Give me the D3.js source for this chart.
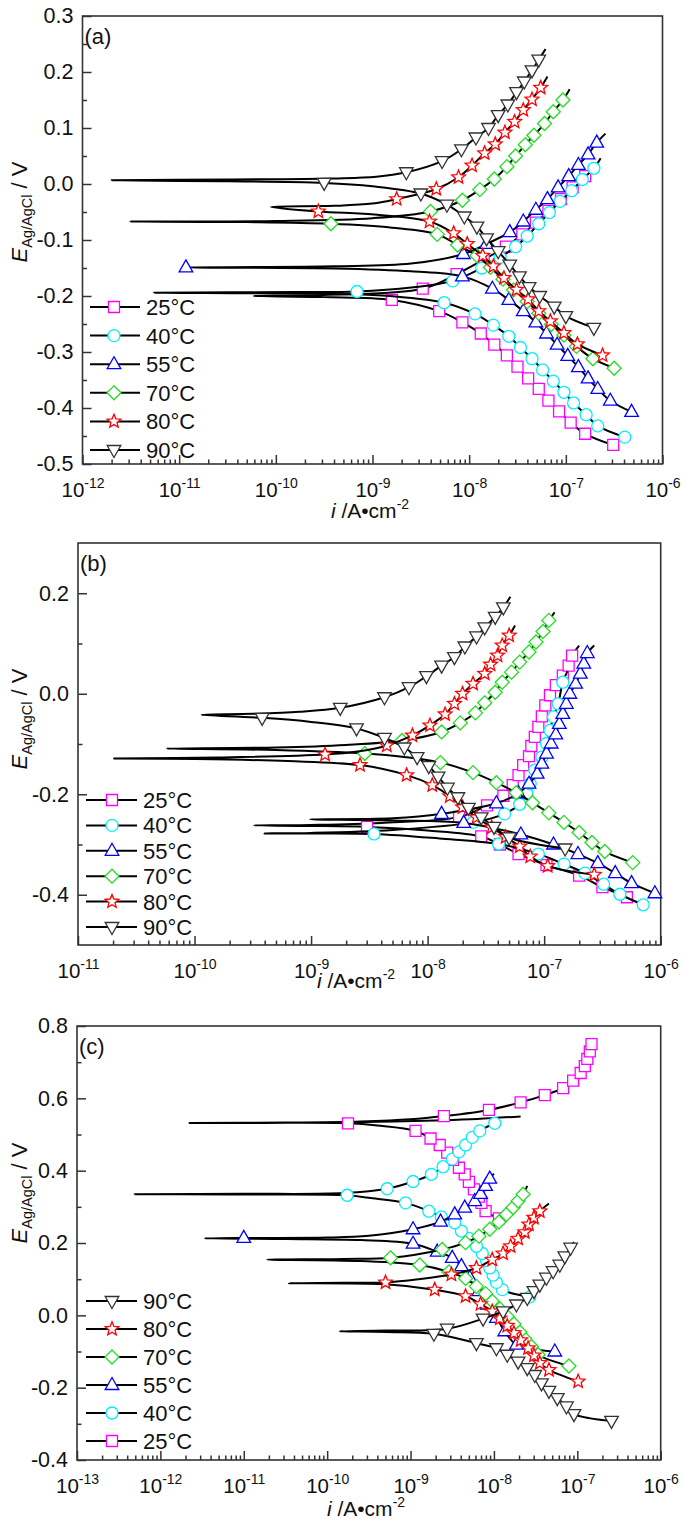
<!DOCTYPE html>
<html>
<head>
<meta charset="utf-8">
<script src="https://cdn.jsdelivr.net/npm/d3@7"></script>
<style>
body{margin:0;background:#fff}
svg{display:block;font-family:"Liberation Sans",Arial,sans-serif}
</style>
</head>
<body>
<svg width="685" height="1525"></svg>
<script>
// each point: [log10 i (A/cm2), E (V vs Ag/AgCl), marker shown 1/0]
// order: cathodic end -> corrosion potential spike -> anodic end

// panel (a)
var a25 = [[-6.51,-0.466,1],[-6.80,-0.446,1],[-6.95,-0.426,1],[-7.07,-0.406,1],[-7.18,-0.387,1],[-7.28,-0.366,1],[-7.39,-0.347,1],[-7.50,-0.326,1],[-7.61,-0.306,1],[-7.74,-0.287,1],[-7.88,-0.267,1],[-8.07,-0.247,1],[-8.31,-0.227,1],[-8.80,-0.207,1],[-9.50,-0.202,0],[-10.23,-0.200,0],[-9.50,-0.198,0],[-8.48,-0.187,1],[-8.13,-0.161,1],[-7.85,-0.135,1],[-7.62,-0.112,1],[-7.45,-0.090,1],[-7.31,-0.069,1],[-7.18,-0.048,1],[-7.05,-0.027,1],[-6.93,-0.006,1],[-6.80,0.014,1],[-6.72,0.030,0]];
var a40 = [[-6.39,-0.452,1],[-6.67,-0.432,1],[-6.79,-0.412,1],[-6.92,-0.391,1],[-7.02,-0.372,1],[-7.13,-0.352,1],[-7.24,-0.332,1],[-7.35,-0.312,1],[-7.47,-0.292,1],[-7.59,-0.272,1],[-7.75,-0.252,1],[-7.94,-0.232,1],[-8.26,-0.212,1],[-8.90,-0.199,0],[-9.60,-0.196,0],[-11.26,-0.194,0],[-9.80,-0.193,0],[-9.16,-0.192,1],[-8.60,-0.185,0],[-8.17,-0.173,1],[-7.87,-0.150,1],[-7.68,-0.131,1],[-7.52,-0.112,1],[-7.40,-0.093,1],[-7.28,-0.071,1],[-7.17,-0.051,1],[-7.06,-0.031,1],[-6.94,-0.012,1],[-6.83,0.008,1],[-6.71,0.028,1],[-6.64,0.046,0]];
var a55 = [[-6.32,-0.407,1],[-6.54,-0.387,1],[-6.67,-0.366,1],[-6.77,-0.347,1],[-6.87,-0.327,1],[-6.98,-0.307,1],[-7.09,-0.287,1],[-7.20,-0.267,1],[-7.31,-0.247,1],[-7.44,-0.227,1],[-7.59,-0.207,1],[-7.76,-0.187,1],[-8.07,-0.165,1],[-8.60,-0.156,0],[-9.40,-0.151,0],[-10.93,-0.149,1],[-9.40,-0.147,0],[-8.60,-0.142,0],[-8.06,-0.125,1],[-7.82,-0.107,1],[-7.58,-0.086,1],[-7.44,-0.067,1],[-7.31,-0.046,1],[-7.19,-0.027,1],[-7.08,-0.006,1],[-6.97,0.014,1],[-6.87,0.034,1],[-6.77,0.053,1],[-6.68,0.074,1],[-6.59,0.090,0]];
var a70 = [[-6.50,-0.329,1],[-6.72,-0.312,1],[-6.89,-0.290,1],[-7.02,-0.270,1],[-7.15,-0.251,1],[-7.28,-0.231,1],[-7.40,-0.210,1],[-7.54,-0.189,1],[-7.65,-0.170,1],[-7.78,-0.149,1],[-7.92,-0.128,1],[-8.12,-0.109,1],[-8.33,-0.090,1],[-8.80,-0.078,0],[-9.43,-0.071,1],[-10.30,-0.068,0],[-11.51,-0.067,0],[-10.00,-0.066,0],[-9.00,-0.061,0],[-8.40,-0.049,1],[-8.07,-0.029,1],[-7.89,-0.010,1],[-7.74,0.009,1],[-7.61,0.031,1],[-7.52,0.050,1],[-7.42,0.070,1],[-7.33,0.087,1],[-7.22,0.108,1],[-7.13,0.129,1],[-7.03,0.150,1],[-6.96,0.169,0]];
var a80 = [[-6.62,-0.306,1],[-6.88,-0.286,1],[-7.02,-0.266,1],[-7.16,-0.245,1],[-7.28,-0.227,1],[-7.39,-0.206,1],[-7.51,-0.189,1],[-7.64,-0.168,1],[-7.75,-0.147,1],[-7.86,-0.128,1],[-8.02,-0.107,1],[-8.16,-0.088,1],[-8.41,-0.067,1],[-8.95,-0.055,0],[-9.56,-0.049,1],[-10.05,-0.041,0],[-9.40,-0.039,0],[-9.00,-0.035,0],[-8.75,-0.027,1],[-8.34,-0.009,1],[-8.11,0.012,1],[-7.97,0.033,1],[-7.84,0.055,1],[-7.73,0.071,1],[-7.63,0.092,1],[-7.53,0.111,1],[-7.44,0.132,1],[-7.35,0.151,1],[-7.26,0.172,1],[-7.19,0.192,0]];
var a90 = [[-6.71,-0.257,1],[-7.00,-0.236,1],[-7.12,-0.219,1],[-7.27,-0.200,1],[-7.38,-0.184,1],[-7.48,-0.165,1],[-7.58,-0.144,1],[-7.70,-0.120,1],[-7.82,-0.097,1],[-7.92,-0.076,1],[-8.05,-0.058,1],[-8.23,-0.037,1],[-8.50,-0.017,1],[-9.00,-0.004,0],[-9.50,0.002,1],[-10.50,0.005,0],[-11.70,0.0065,0],[-10.50,0.008,0],[-9.40,0.010,0],[-8.96,0.013,0],[-8.65,0.021,1],[-8.28,0.041,1],[-8.08,0.062,1],[-7.93,0.083,1],[-7.80,0.100,1],[-7.70,0.123,1],[-7.60,0.142,1],[-7.51,0.164,1],[-7.43,0.183,1],[-7.35,0.203,1],[-7.28,0.222,1],[-7.21,0.241,0]];

// panel (b)
var b25 = [[-6.29,-0.405,1],[-6.50,-0.385,1],[-6.70,-0.362,1],[-6.98,-0.341,1],[-7.22,-0.319,1],[-7.38,-0.300,1],[-7.54,-0.284,1],[-8.00,-0.272,0],[-8.52,-0.265,1],[-9.00,-0.263,0],[-9.49,-0.262,0],[-9.00,-0.261,0],[-8.40,-0.257,0],[-7.73,-0.245,1],[-7.49,-0.222,1],[-7.35,-0.203,1],[-7.27,-0.182,1],[-7.22,-0.162,1],[-7.18,-0.142,1],[-7.13,-0.124,1],[-7.11,-0.104,1],[-7.08,-0.086,1],[-7.05,-0.066,1],[-7.02,-0.045,1],[-6.99,-0.023,1],[-6.95,-0.003,1],[-6.90,0.017,1],[-6.84,0.036,1],[-6.79,0.056,1],[-6.76,0.076,1],[-6.70,0.096,0]];
var b40 = [[-6.15,-0.420,1],[-6.35,-0.399,1],[-6.49,-0.379,1],[-6.65,-0.357,1],[-6.83,-0.339,1],[-7.05,-0.319,1],[-7.39,-0.299,1],[-7.90,-0.288,0],[-8.46,-0.279,1],[-9.00,-0.278,0],[-9.40,-0.278,0],[-9.00,-0.277,0],[-8.30,-0.271,0],[-7.61,-0.256,1],[-7.34,-0.239,1],[-7.21,-0.220,1],[-7.15,-0.198,1],[-7.12,-0.179,1],[-7.08,-0.152,1],[-7.02,-0.126,1],[-6.98,-0.099,1],[-6.95,-0.073,1],[-6.92,-0.046,1],[-6.88,-0.020,1],[-6.84,0.023,1],[-6.80,0.045,0]];
var b55 = [[-6.05,-0.397,1],[-6.25,-0.377,1],[-6.39,-0.357,1],[-6.54,-0.337,1],[-6.71,-0.319,1],[-6.92,-0.300,1],[-7.20,-0.280,1],[-7.69,-0.257,1],[-8.30,-0.252,0],[-9.01,-0.250,0],[-8.30,-0.248,0],[-7.88,-0.239,1],[-7.41,-0.218,1],[-7.22,-0.198,1],[-7.13,-0.179,1],[-7.06,-0.159,1],[-7.02,-0.139,1],[-6.98,-0.119,1],[-6.94,-0.099,1],[-6.90,-0.081,1],[-6.87,-0.060,1],[-6.84,-0.040,1],[-6.81,-0.020,1],[-6.78,0.000,1],[-6.73,0.020,1],[-6.69,0.040,1],[-6.66,0.060,1],[-6.63,0.081,1],[-6.57,0.096,0]];
var b70 = [[-6.24,-0.336,1],[-6.48,-0.314,1],[-6.59,-0.296,1],[-6.70,-0.276,1],[-6.83,-0.256,1],[-6.96,-0.237,1],[-7.10,-0.217,1],[-7.24,-0.197,1],[-7.41,-0.177,1],[-7.61,-0.157,1],[-7.89,-0.137,1],[-8.20,-0.126,0],[-8.54,-0.119,1],[-9.30,-0.112,0],[-10.24,-0.109,0],[-9.30,-0.107,0],[-8.70,-0.102,0],[-8.22,-0.093,1],[-7.88,-0.076,1],[-7.72,-0.058,1],[-7.59,-0.038,1],[-7.51,-0.018,1],[-7.42,0.003,1],[-7.36,0.023,1],[-7.28,0.043,1],[-7.21,0.063,1],[-7.13,0.083,1],[-7.07,0.103,1],[-7.01,0.124,1],[-6.96,0.146,1],[-6.91,0.162,0]];
var b80 = [[-6.57,-0.360,1],[-6.97,-0.343,1],[-7.12,-0.324,1],[-7.21,-0.304,1],[-7.33,-0.285,1],[-7.45,-0.266,1],[-7.58,-0.246,1],[-7.70,-0.226,1],[-7.81,-0.204,1],[-7.96,-0.182,1],[-8.18,-0.162,1],[-8.58,-0.142,1],[-9.20,-0.134,0],[-10.00,-0.130,0],[-10.69,-0.129,0],[-9.80,-0.127,0],[-8.88,-0.121,1],[-8.60,-0.115,0],[-8.35,-0.103,1],[-8.13,-0.083,1],[-7.98,-0.063,1],[-7.85,-0.041,1],[-7.77,-0.020,1],[-7.70,0.000,1],[-7.61,0.020,1],[-7.51,0.040,1],[-7.46,0.058,1],[-7.40,0.076,1],[-7.36,0.096,1],[-7.30,0.116,1],[-7.25,0.136,0]];
var b90 = [[-6.82,-0.308,1],[-7.30,-0.286,1],[-7.43,-0.265,1],[-7.54,-0.246,1],[-7.65,-0.227,1],[-7.74,-0.206,1],[-7.83,-0.187,1],[-7.91,-0.165,1],[-7.99,-0.144,1],[-8.09,-0.126,1],[-8.20,-0.107,1],[-8.37,-0.088,1],[-8.61,-0.069,1],[-9.00,-0.056,0],[-9.42,-0.048,1],[-9.94,-0.042,0],[-9.50,-0.040,0],[-9.10,-0.036,0],[-8.75,-0.028,1],[-8.37,-0.007,1],[-8.16,0.013,1],[-8.01,0.035,1],[-7.88,0.056,1],[-7.77,0.073,1],[-7.68,0.094,1],[-7.58,0.114,1],[-7.51,0.132,1],[-7.42,0.153,1],[-7.35,0.172,1],[-7.29,0.193,0]];

// panel (c)
var c25 = [[-7.94,0.268,1],[-8.10,0.288,1],[-8.15,0.311,1],[-8.18,0.328,1],[-8.24,0.348,1],[-8.30,0.369,1],[-8.35,0.390,1],[-8.42,0.408,1],[-8.49,0.430,1],[-8.56,0.450,1],[-8.65,0.471,1],[-8.76,0.489,1],[-8.94,0.510,1],[-9.40,0.525,0],[-9.75,0.531,1],[-10.80,0.532,0],[-11.65,0.532,0],[-10.50,0.533,0],[-9.60,0.536,0],[-9.00,0.542,0],[-8.60,0.551,1],[-8.06,0.568,1],[-7.68,0.589,1],[-7.39,0.609,1],[-7.17,0.628,1],[-7.05,0.649,1],[-6.96,0.670,1],[-6.91,0.689,1],[-6.88,0.709,1],[-6.85,0.730,1],[-6.83,0.750,1],[-6.83,0.767,0]];
var c25tail = [[-9.70,0.534,0],[-9.20,0.536,0],[-8.70,0.539,0],[-8.20,0.543,0],[-7.68,0.550,0]];
var c40 = [[-7.57,0.051,1],[-7.90,0.071,1],[-7.97,0.091,1],[-8.01,0.111,1],[-8.05,0.131,1],[-8.09,0.152,1],[-8.14,0.171,1],[-8.21,0.191,1],[-8.30,0.213,1],[-8.39,0.233,1],[-8.47,0.256,1],[-8.63,0.272,1],[-8.78,0.288,1],[-9.06,0.311,1],[-9.50,0.325,0],[-9.76,0.332,1],[-11.00,0.334,0],[-12.31,0.335,0],[-11.00,0.336,0],[-9.80,0.338,0],[-9.28,0.350,1],[-8.97,0.370,1],[-8.75,0.390,1],[-8.61,0.411,1],[-8.50,0.432,1],[-8.42,0.452,1],[-8.34,0.471,1],[-8.26,0.492,1],[-8.17,0.510,1],[-7.99,0.531,1]];
var c55 = [[-7.27,-0.100,1],[-7.73,-0.081,1],[-7.87,-0.044,1],[-7.97,-0.007,1],[-8.08,0.030,1],[-8.18,0.067,1],[-8.29,0.104,1],[-8.39,0.136,1],[-8.50,0.159,1],[-8.68,0.176,1],[-8.97,0.198,1],[-9.60,0.208,0],[-10.50,0.211,0],[-11.47,0.213,0],[-11.00,0.214,1],[-10.00,0.215,0],[-9.50,0.220,0],[-8.97,0.238,1],[-8.64,0.259,1],[-8.47,0.279,1],[-8.35,0.298,1],[-8.23,0.316,1],[-8.16,0.336,1],[-8.10,0.358,1],[-8.05,0.378,1],[-8.00,0.392,0]];
var c70 = [[-7.10,-0.140,1],[-7.47,-0.109,1],[-7.55,-0.086,1],[-7.63,-0.065,1],[-7.69,-0.046,1],[-7.76,-0.024,1],[-7.84,-0.003,1],[-7.93,0.018,1],[-8.02,0.039,1],[-8.10,0.060,1],[-8.21,0.080,1],[-8.34,0.102,1],[-8.54,0.120,1],[-8.89,0.139,1],[-9.60,0.150,0],[-10.72,0.154,0],[-9.80,0.156,0],[-9.24,0.159,1],[-8.62,0.182,1],[-8.34,0.201,1],[-8.18,0.219,1],[-8.05,0.238,1],[-7.94,0.258,1],[-7.85,0.279,1],[-7.77,0.298,1],[-7.71,0.316,1],[-7.65,0.335,1],[-7.60,0.358,0]];
var c80 = [[-6.99,-0.183,1],[-7.34,-0.151,1],[-7.45,-0.132,1],[-7.52,-0.111,1],[-7.59,-0.091,1],[-7.68,-0.069,1],[-7.76,-0.049,1],[-7.84,-0.029,1],[-7.93,-0.009,1],[-8.02,0.011,1],[-8.16,0.031,1],[-8.34,0.053,1],[-8.71,0.071,1],[-9.30,0.086,0],[-10.46,0.089,0],[-9.80,0.090,0],[-9.30,0.091,1],[-8.90,0.100,0],[-8.51,0.113,1],[-8.21,0.131,1],[-8.02,0.154,1],[-7.89,0.171,1],[-7.80,0.191,1],[-7.71,0.212,1],[-7.63,0.230,1],[-7.58,0.251,1],[-7.52,0.270,1],[-7.45,0.288,1],[-7.34,0.309,0]];
var c90 = [[-6.59,-0.292,1],[-7.04,-0.273,1],[-7.13,-0.252,1],[-7.24,-0.229,1],[-7.34,-0.209,1],[-7.43,-0.188,1],[-7.51,-0.165,1],[-7.60,-0.146,1],[-7.71,-0.128,1],[-7.84,-0.109,1],[-7.97,-0.091,1],[-8.21,-0.077,1],[-8.72,-0.051,1],[-9.30,-0.046,0],[-9.85,-0.044,0],[-9.30,-0.042,0],[-8.56,-0.037,1],[-8.13,-0.009,1],[-7.89,0.011,1],[-7.73,0.030,1],[-7.60,0.048,1],[-7.52,0.067,1],[-7.45,0.085,1],[-7.37,0.104,1],[-7.29,0.122,1],[-7.21,0.140,1],[-7.15,0.163,1],[-7.08,0.187,1],[-7.04,0.203,0]];

var temps = ["25°C", "40°C", "55°C", "70°C", "80°C", "90°C"];
var xExpA = [-12, -11, -10, -9, -8, -7, -6];
var xExpB = [-11, -10, -9, -8, -7, -6];
var xExpC = [-13, -12, -11, -10, -9, -8, -7, -6];
var yMajA = [0.3, 0.2, 0.1, 0.0, -0.1, -0.2, -0.3, -0.4, -0.5];
var yMinA = [0.25, 0.15, 0.05, -0.05, -0.15, -0.25, -0.35, -0.45];
var yMajB = [0.2, 0.0, -0.2, -0.4];
var yMinB = [0.1, -0.1, -0.3];
var yMajC = [0.8, 0.6, 0.4, 0.2, 0.0, -0.2, -0.4];
var yMinC = [0.7, 0.5, 0.3, 0.1, -0.1, -0.3];

var colors = ["#ff00ff", "#00eeff", "#0000ff", "#22dd22", "#ff0000", "#333333"];

function starPath(ro, ri) {
  var s = "";
  for (var k = 0; k < 10; k++) {
    var r = k % 2 ? ri : ro;
    var a = -Math.PI / 2 + k * Math.PI / 5;
    s += (k ? "L" : "M") + (r * Math.cos(a)).toFixed(2) + "," + (r * Math.sin(a)).toFixed(2);
  }
  return s + "Z";
}
var shapes = [
  "M-5.5,-5.5H5.5V5.5H-5.5Z",
  d3.symbol(d3.symbolCircle, Math.PI * 36)(),
  "M0,-7.5L6.8,4.5L-6.8,4.5Z",
  "M0,-7L7,0L0,7L-7,0Z",
  starPath(7.2, 3.2),
  "M0,7.5L6.8,-4.5L-6.8,-4.5Z"
];

var svg = d3.select("svg");

var panels = [
  {series: [a25, a40, a55, a70, a80, a90], extra: [], xExp: xExpA, yMaj: yMajA, yMin: yMinA,
   left: 82.5, right: 662.5, top: 16, bottom: 464, yDom: [-0.5, 0.3], label: "(a)",
   leg: {x1: 90, x2: 140, xm: 114, xt: 146, y0: 307, dy: 28.6, order: [0, 1, 2, 3, 4, 5]},
   yTitle: 212, xTitle: [370, 518]},
  {series: [b25, b40, b55, b70, b80, b90], extra: [], xExp: xExpB, yMaj: yMajB, yMin: yMinB,
   left: 78, right: 660.7, top: 543, bottom: 945, yDom: [-0.5, 0.3], label: "(b)",
   leg: {x1: 86, x2: 137, xm: 112, xt: 143, y0: 800, dy: 25.4, order: [0, 1, 2, 3, 4, 5]},
   yTitle: 719, xTitle: [356, 988]},
  {series: [c25, c40, c55, c70, c80, c90], extra: [c25tail], xExp: xExpC, yMaj: yMajC, yMin: yMinC,
   left: 77, right: 660.7, top: 1026, bottom: 1460, yDom: [-0.4, 0.8], label: "(c)",
   leg: {x1: 86, x2: 137, xm: 112, xt: 143, y0: 1301, dy: 28, order: [5, 4, 3, 2, 1, 0]},
   yTitle: 1193, xTitle: [366, 1516]}
];

function drawPanel(p) {
  var lo = p.xExp[0], hi = p.xExp[p.xExp.length - 1];
  var x = d3.scaleLog().domain([Math.pow(10, lo), Math.pow(10, hi)]).range([p.left, p.right]);
  var y = d3.scaleLinear().domain(p.yDom).range([p.bottom, p.top]);
  var g = svg.append("g");

  // minor x ticks
  var minors = [];
  p.xExp.slice(0, -1).forEach(function(e) {
    for (var k = 2; k < 10; k++) minors.push(k * Math.pow(10, e));
  });
  var xm = g.append("g").attr("transform", "translate(0," + p.bottom + ")")
    .call(d3.axisBottom(x).tickValues(minors).tickSizeInner(-4.5).tickSizeOuter(0).tickFormat(""));
  var xa = g.append("g").attr("transform", "translate(0," + p.bottom + ")")
    .call(d3.axisBottom(x).tickValues(p.xExp.map(function(e){ return Math.pow(10, e); }))
      .tickSizeInner(-9).tickSizeOuter(0).tickFormat(""));
  xa.selectAll(".tick text").attr("y", 33).attr("dy", null).attr("font-size", 20.5)
    .each(function(d, i) {
      var t = d3.select(this);
      t.append("tspan").text("10");
      t.append("tspan").attr("dy", -9).attr("font-size", 14).text(p.xExp[i]);
    });

  var ym = g.append("g").attr("transform", "translate(" + p.left + ",0)")
    .call(d3.axisLeft(y).tickValues(p.yMin).tickSizeInner(-4.5).tickSizeOuter(0).tickFormat(""));
  var ya = g.append("g").attr("transform", "translate(" + p.left + ",0)")
    .call(d3.axisLeft(y).tickValues(p.yMaj).tickSizeInner(-9).tickSizeOuter(0)
      .tickFormat(function(d){ return d.toFixed(1); }));
  ya.selectAll(".tick text").attr("x", -9).attr("font-size", 21.5);

  [xm, xa, ym, ya].forEach(function(a) {
    a.attr("font-family", null).attr("font-size", null);
    a.select(".domain").remove();
    a.selectAll("line").attr("stroke", "#333").attr("stroke-width", 1.5);
    a.selectAll("text").attr("fill", "#111");
  });

  g.append("rect").attr("x", p.left).attr("y", p.top)
    .attr("width", p.right - p.left).attr("height", p.bottom - p.top)
    .attr("fill", "none").attr("stroke", "#333").attr("stroke-width", 1.6);

  var line = d3.line()
    .x(function(d){ return x(Math.pow(10, d[0])); })
    .y(function(d){ return y(d[1]); })
    .curve(d3.curveCatmullRom.alpha(0.5));

  p.extra.forEach(function(s) {
    g.append("path").attr("d", line(s)).attr("fill", "none")
      .attr("stroke", "#000").attr("stroke-width", 2);
  });

  p.series.forEach(function(s, k) {
    var sg = g.append("g");
    sg.append("path").attr("d", line(s)).attr("fill", "none")
      .attr("stroke", "#000").attr("stroke-width", 2).attr("stroke-linejoin", "round");
    sg.selectAll("path.m").data(s.filter(function(d){ return d[2] === 1; }))
      .enter().append("path").attr("class", "m")
      .attr("d", shapes[k])
      .attr("transform", function(d){ return "translate(" + x(Math.pow(10, d[0])) + "," + y(d[1]) + ")"; })
      .attr("fill", "#fff").attr("stroke", colors[k]).attr("stroke-width", 1.3);
  });

  // legend
  var L = p.leg;
  var rows = g.append("g").selectAll("g").data(L.order).enter().append("g")
    .attr("transform", function(d, i){ return "translate(0," + (L.y0 + i * L.dy) + ")"; });
  rows.append("line").attr("x1", L.x1).attr("x2", L.x2).attr("stroke", "#000").attr("stroke-width", 2);
  rows.append("path").attr("d", function(d){ return shapes[d]; })
    .attr("transform", "translate(" + L.xm + ",0)")
    .attr("fill", "#fff").attr("stroke", function(d){ return colors[d]; }).attr("stroke-width", 1.3);
  rows.append("text").attr("x", L.xt).attr("y", 8).attr("font-size", 22).attr("fill", "#111")
    .text(function(d){ return temps[d]; });

  g.append("text").attr("x", p.left + 2).attr("y", p.top + 28).attr("font-size", 22)
    .attr("fill", "#111").text(p.label);

  var yt = g.append("text").attr("transform", "translate(27," + p.yTitle + ") rotate(-90)")
    .attr("text-anchor", "middle").attr("font-size", 22).attr("fill", "#111");
  yt.append("tspan").attr("font-style", "italic").text("E");
  yt.append("tspan").attr("font-size", 14.5).attr("dy", 5).text("Ag/AgCl");
  yt.append("tspan").attr("dy", -5).text(" / V");

  var xt = g.append("text").attr("x", p.xTitle[0]).attr("y", p.xTitle[1])
    .attr("text-anchor", "middle").attr("font-size", 21).attr("fill", "#111");
  xt.append("tspan").attr("font-style", "italic").text("i");
  xt.append("tspan").text(" /A\u2022cm");
  xt.append("tspan").attr("font-size", 14).attr("dy", -9).text("-2");
}

panels.forEach(drawPanel);
</script>
</body>
</html>
